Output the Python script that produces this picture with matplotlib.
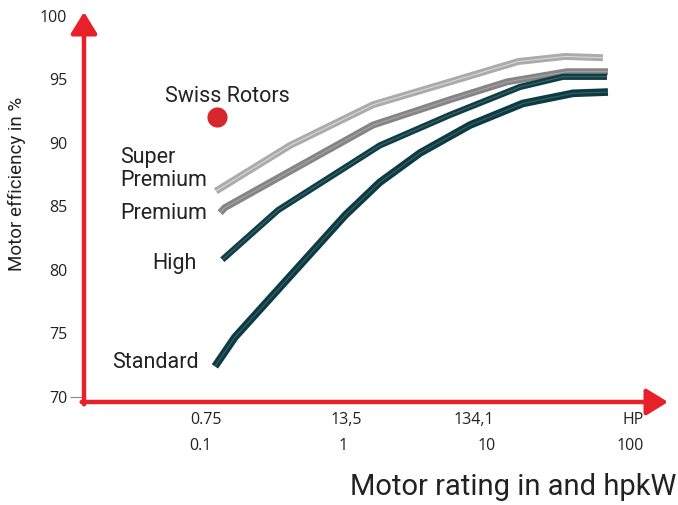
import matplotlib
matplotlib.use("Agg")
import matplotlib.pyplot as plt
import numpy as np

# ---- data (kW on a log axis, efficiency in %) ----
super_kw = [0.129, 0.425, 1.61, 5.56, 16.6, 35.2, 64.9]
super_eff = [86.2, 89.8, 93.0, 94.8, 96.4, 96.8, 96.7]

premium_kw = [0.138, 0.149, 0.446, 1.61, 5.56, 13.9, 36.4, 70.3]
premium_eff = [84.5, 84.9, 87.9, 91.4, 93.4, 94.8, 95.6, 95.6]

high_kw = [0.143, 0.35, 1.80, 5.56, 17.1, 34.1, 69.2]
high_eff = [80.8, 84.7, 89.8, 92.2, 94.4, 95.2, 95.2]

standard_kw = [0.127, 0.175, 1.03, 1.80, 3.43, 7.66, 17.9, 40.1, 70.3]
standard_eff = [72.4, 74.7, 84.3, 86.9, 89.2, 91.4, 93.1, 93.9, 94.0]

swiss_kw = [0.131]
swiss_eff = [92.0]

y_ticks = [70, 75, 80, 85, 90, 95, 100]
x_ticks = [0.1, 1, 10, 100]
kw_labels = ["0.1", "1", "10", "100"]
hp_labels = ["0.75", "13,5", "134,1", "HP"]

label_texts = ["Swiss Rotors", "Super", "Premium", "Premium", "High", "Standard"]

RED = "#e8202a"
W, H = 678, 505

fig = plt.figure(figsize=(6.78, 5.05), dpi=100)
left_px, right_px, bottom_px, top_px = 84, 668, 402, 12
ax = fig.add_axes([left_px / W, (H - bottom_px) / H,
                   (right_px - left_px) / W, (bottom_px - top_px) / H])
ax.set_xscale("log")
ax.set_xlim(10 ** -1.81, 10 ** 2.266)
ax.set_ylim(69.6, 100.3)

for s in ax.spines.values():
    s.set_visible(False)

# axes arrows
arrow = dict(arrowstyle="-|>,head_length=0.65,head_width=0.4", lw=3.2,
             color=RED, mutation_scale=20, shrinkA=0, shrinkB=0)
ax.annotate("", xy=(1.0, 0.0), xytext=(-0.004, 0.0), xycoords="axes fraction",
            arrowprops=arrow, annotation_clip=False)
ax.annotate("", xy=(0.0, 1.0), xytext=(0.0, -0.006), xycoords="axes fraction",
            arrowprops=arrow, annotation_clip=False)


def tube(x, y, outer, inner, lw=5.0):
    ax.plot(x, y, color=outer, lw=lw, solid_joinstyle="miter",
            solid_capstyle="butt", zorder=3)
    ax.plot(x, y, color=inner, lw=0.7, solid_joinstyle="miter",
            solid_capstyle="butt", zorder=4)


tube(super_kw, super_eff, "#ababab", "#dedede")
tube(premium_kw, premium_eff, "#858585", "#a8a8a8")
tube(high_kw, high_eff, "#113d45", "#3f6b73", lw=4.5)
tube(standard_kw, standard_eff, "#0e3a42", "#3b6870", lw=5.5)

ax.plot(swiss_kw, swiss_eff, "o", color="#d7262d", ms=14.5, mec="none", zorder=5)

# series labels (pixel positions: left, centre-y)
label_pos = [(165, 96), (120, 157), (120, 181), (120, 214), (152, 263), (112, 362)]
for t, (px, py) in zip(label_texts, label_pos):
    fig.text(px / W, 1 - py / H, t, ha="left", va="center", fontsize=15.5,
             family="Roboto", color="#222222")

# y ticks
ax.set_yticks(y_ticks)
ax.set_yticklabels([str(v) for v in y_ticks], family="Open Sans", fontsize=11.5,
                   color="#222222")
ax.tick_params(axis="y", length=0, pad=12)
t70 = ax.yaxis.get_major_ticks()[0]
t70.tick1line.set_markersize(10)
t70.tick1line.set_markeredgecolor("#888888")
t70.tick1line.set_markeredgewidth(0.8)

# x ticks (kW row) and HP row
ax.set_xticks(x_ticks)
ax.set_xticklabels(kw_labels, family="Open Sans", fontsize=11.5, color="#222222")
ax.xaxis.set_minor_locator(matplotlib.ticker.NullLocator())
ax.tick_params(axis="x", length=0, pad=26)
hp_dx = [4, 2, -9, 2]
for xv, lab, dx in zip(x_ticks, hp_labels, hp_dx):
    ax.annotate(lab, xy=(xv, 0), xycoords=("data", "axes fraction"),
                xytext=(dx, -13), textcoords="offset points", ha="center",
                va="center", family="Open Sans", fontsize=11.5, color="#222222",
                annotation_clip=False)

ax.set_ylabel("Motor efficiency in %", family="Roboto", fontsize=13.5,
              color="#222222")
ax.yaxis.set_label_coords(-0.1, 0.56)

fig.text(676 / W, 4 / H, "Motor rating in and hpkW", ha="right", va="bottom",
         family="Roboto", fontsize=21, color="#222222")

fig.savefig("out.png", dpi=100)
